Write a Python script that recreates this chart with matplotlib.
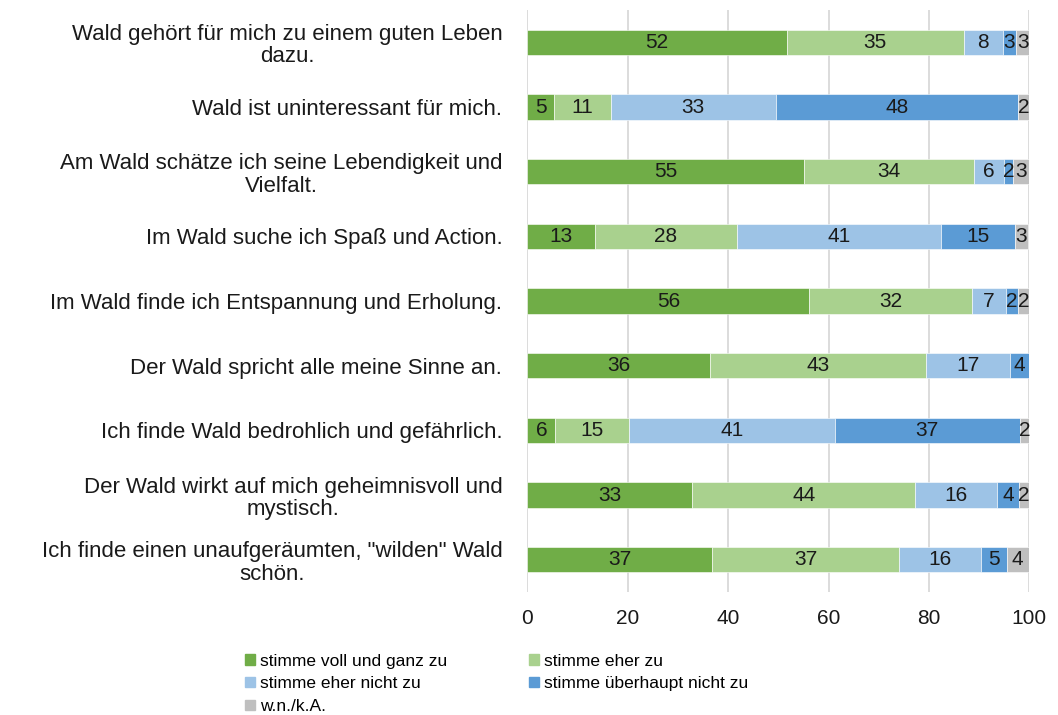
import numpy as np
import matplotlib.pyplot as plt
from matplotlib.patches import Patch

plt.rcParams['font.family'] = ['Liberation Sans', 'DejaVu Sans']

# data (percent), top row first
items = ['Wald gehört für mich zu einem guten Leben\ndazu.',
         'Wald ist uninteressant für mich.',
         'Am Wald schätze ich seine Lebendigkeit und\nVielfalt.',
         'Im Wald suche ich Spaß und Action.',
         'Im Wald finde ich Entspannung und Erholung.',
         'Der Wald spricht alle meine Sinne an.',
         'Ich finde Wald bedrohlich und gefährlich.',
         'Der Wald wirkt auf mich geheimnisvoll und\nmystisch.',
         'Ich finde einen unaufgeräumten, "wilden" Wald\nschön.']
voll = [51.7, 5.3, 55.1, 13.4, 56.2, 36.4, 5.6, 32.9, 36.7]
eher = [35.2, 11.3, 33.9, 28.4, 32.4, 43.1, 14.6, 44.4, 37.4]
eher_nicht = [7.8, 32.9, 6.0, 40.7, 6.8, 16.6, 41.0, 16.3, 16.3]
gar_nicht = [2.7, 48.3, 1.8, 14.6, 2.3, 3.9, 36.9, 4.4, 5.1]
wnka = [2.7, 2.2, 3.2, 2.7, 2.3, 0.0, 1.9, 1.9, 4.4]

series = ['stimme voll und ganz zu', 'stimme eher zu', 'stimme eher nicht zu',
          'stimme überhaupt nicht zu', 'w.n./k.A.']
colors = ['#70AD47', '#A9D18E', '#9DC3E6', '#5B9BD5', '#BFBFBF']

data = np.array([voll, eher, eher_nicht, gar_nicht, wnka])
y = np.arange(len(items))

fig = plt.figure(figsize=(10.58, 7.15), dpi=100)
ax = fig.add_axes([0.4984, 0.172, 0.4745, 0.814])

left = np.zeros(len(items))
handles = []
for vals, name, col in zip(data, series, colors):
    bars = ax.barh(y, vals, left=left, height=0.39, color=col,
                   edgecolor='white', linewidth=0.4, label=name, zorder=3)
    for b, v in zip(bars, vals):
        if v > 0:
            ax.text(b.get_x() + b.get_width() / 2, b.get_y() + b.get_height() / 2,
                    '%d' % round(v), ha='center', va='center', fontsize=15,
                    color='#1a1a1a', zorder=4)
    left += vals
    handles.append(Patch(color=col, label=name))

ax.set_xlim(0, 100)
ax.set_ylim(len(items) - 0.5, -0.5)
ax.set_xticks(np.arange(0, 101, 20))
ax.set_yticks(y)
ax.set_yticklabels(items, fontsize=16, color='#1a1a1a', linespacing=1.1)
for t in ax.get_yticklabels():
    t.set_multialignment('center')
ax.tick_params(axis='x', length=0, labelsize=15, pad=12, colors='#1a1a1a')
ax.tick_params(axis='y', length=0, pad=18)
ax.grid(axis='x', color='#D9D9D9', linewidth=1.3, zorder=0)
for s in ax.spines.values():
    s.set_visible(False)

order = [0, 2, 4, 1, 3]
fig.legend([handles[i] for i in order], [series[i] for i in order],
           loc='upper left', bbox_to_anchor=(0.232, 0.086), ncol=2,
           frameon=False, fontsize=12.5, handlelength=0.55, handleheight=0.55,
           handletextpad=0.3, labelspacing=0.45, columnspacing=4.7,
           borderaxespad=0, borderpad=0)

fig.savefig('out.png', dpi=100)
